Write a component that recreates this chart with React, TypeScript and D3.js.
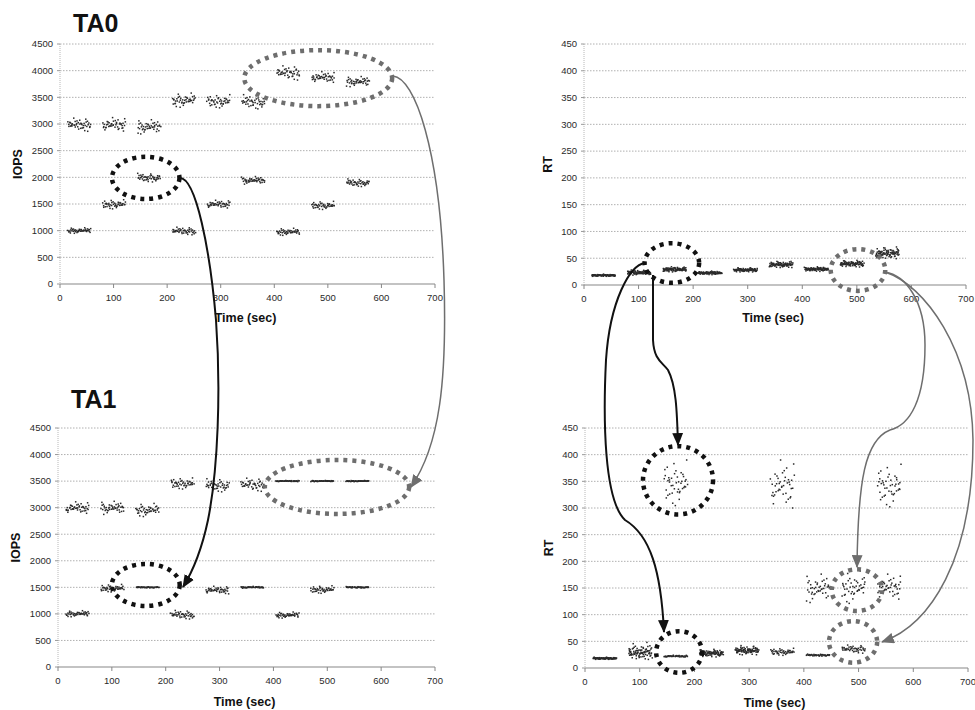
import React, { useEffect, useRef } from 'react';
import * as d3 from 'd3';

// time windows (sec) in which each workload pair runs
const periodStart = [15, 80, 145, 210, 275, 340, 405, 470, 535];
const periodLength = 42;

// axis ticks
const timeTicks = [0, 100, 200, 300, 400, 500, 600, 700];
const iopsTicks = [0, 500, 1000, 1500, 2000, 2500, 3000, 3500, 4000, 4500];
const rtTicks = [0, 50, 100, 150, 200, 250, 300, 350, 400, 450];

// TA0 IOPS, two workloads per window (level and scatter)
const ta0IopsLow = [1000, 1490, 1990, 990, 1490, 1940, 975, 1470, 1895];
const ta0IopsLowSpread = [55, 90, 85, 75, 80, 75, 70, 80, 75];
const ta0IopsHigh = [2980, 2980, 2940, 3440, 3420, 3410, 3950, 3870, 3790];
const ta0IopsHighSpread = [130, 140, 140, 140, 130, 140, 140, 110, 100];

// TA0 response time
const ta0RtA = [18, 22, 28, 22, 28, 38, 30, 40, 60];
const ta0RtASpread = [2, 4, 4, 3, 4, 6, 4, 6, 11];
const ta0RtB = [18, 24, 30, 23, 28, 38, 29, 39, 58];
const ta0RtBSpread = [2, 4, 4, 3, 4, 6, 4, 6, 11];

// TA1 IOPS
const ta1IopsLow = [1000, 1480, 1500, 980, 1445, 1500, 975, 1455, 1500];
const ta1IopsLowSpread = [60, 75, 12, 85, 75, 18, 60, 75, 14];
const ta1IopsHigh = [2990, 2990, 2950, 3450, 3415, 3425, 3500, 3500, 3500];
const ta1IopsHighSpread = [120, 130, 130, 110, 130, 130, 12, 12, 12];

// TA1 response time
const ta1RtA = [18, 26, 22, 28, 32, 30, 24, 35, 150];
const ta1RtASpread = [2, 11, 2, 7, 8, 7, 2, 8, 26];
const ta1RtB = [18, 32, 345, 27, 33, 340, 148, 150, 340];
const ta1RtBSpread = [2, 16, 45, 7, 9, 50, 28, 32, 42];

// scatter shape inside a window, read as a rough noise profile
const jitter = [
  0.08, -0.31, 0.22, 0.55, -0.12, -0.42, 0.03, 0.35, -0.9, 0.18, -0.07, 0.47, -0.25, 0.05,
  1.0, -0.38, 0.11, -0.58, 0.29, -0.02, 0.24, -0.19, 0.7, -0.33, 0.01, -0.8, 0.4, 0.14,
  -0.22, 0.52, -0.06, 0.31, -0.47, 0.09, -0.28, 0.85, -0.15, 0.26, -0.64, 0.04, 0.43,
  -0.1, 0.17, -0.36, 0.6, -0.2, 0.12,
];

function cluster(levels: number[], spreads: number[], shift: number) {
  const pts: [number, number][] = [];
  const n = jitter.length;
  levels.forEach((lv, p) => {
    for (let t = 0; t <= periodLength; t++) {
      const jy = jitter[(t * 5 + p * 7 + shift) % n];
      const jx = jitter[(t * 3 + p * 11 + shift + 17) % n];
      pts.push([periodStart[p] + t + jx * 1.4, lv + spreads[p] * jy]);
    }
  });
  return pts;
}

const panels = [
  {
    key: 'ta0', title: 'TA0', yLabel: 'IOPS', ticks: iopsTicks,
    left: 60, right: 435, top: 44, bottom: 284, titleX: 73, titleY: 32, yLabelX: 18, xLabelY: 322,
    points: [...cluster(ta0IopsLow, ta0IopsLowSpread, 0), ...cluster(ta0IopsHigh, ta0IopsHighSpread, 11)],
    ellipses: [
      { cx: 160, cy: 1990, rx: 63, ry: 395, color: '#111' },
      { cx: 482, cy: 3860, rx: 138, ry: 525, color: '#6e6e6e' },
    ],
  },
  {
    key: 'rt0', title: '', yLabel: 'RT', ticks: rtTicks,
    left: 584, right: 966, top: 44, bottom: 285, titleX: 0, titleY: 0, yLabelX: 548, xLabelY: 322,
    points: [...cluster(ta0RtA, ta0RtASpread, 3), ...cluster(ta0RtB, ta0RtBSpread, 19)],
    ellipses: [
      { cx: 161, cy: 41, rx: 50, ry: 37, color: '#111' },
      { cx: 502, cy: 28, rx: 50, ry: 39, color: '#6e6e6e' },
    ],
  },
  {
    key: 'ta1', title: 'TA1', yLabel: 'IOPS', ticks: iopsTicks,
    left: 58, right: 435, top: 428, bottom: 667, titleX: 71, titleY: 408, yLabelX: 16, xLabelY: 706,
    points: [...cluster(ta1IopsLow, ta1IopsLowSpread, 5), ...cluster(ta1IopsHigh, ta1IopsHighSpread, 23)],
    ellipses: [
      { cx: 163, cy: 1545, rx: 63, ry: 395, color: '#111' },
      { cx: 518, cy: 3390, rx: 134, ry: 508, color: '#6e6e6e' },
    ],
  },
  {
    key: 'rt1', title: '', yLabel: 'RT', ticks: rtTicks,
    left: 585, right: 968, top: 428, bottom: 668, titleX: 0, titleY: 0, yLabelX: 549, xLabelY: 707,
    points: [...cluster(ta1RtA, ta1RtASpread, 9), ...cluster(ta1RtB, ta1RtBSpread, 30)],
    ellipses: [
      { cx: 170, cy: 352, rx: 64, ry: 64, color: '#111' },
      { cx: 172, cy: 30, rx: 42, ry: 39, color: '#111' },
      { cx: 497, cy: 146, rx: 46, ry: 39, color: '#6e6e6e' },
      { cx: 490, cy: 49, rx: 44, ry: 39, color: '#6e6e6e' },
    ],
  },
];

// connector arrows between the panels (page pixels)
const arrows = [
  { d: 'M180,178 C196,178 210,250 216,320 C221,390 218,470 208,520 C201,553 193,571 183,587', color: '#111', w: 2 },
  { d: 'M393,76 C415,78 440,150 444,280 C447,380 440,445 411,487', color: '#6e6e6e', w: 1.5 },
  { d: 'M645,263 C630,265 610,300 606,360 C603,420 604,500 625,520 C650,535 661,570 664,632', color: '#111', w: 2 },
  { d: 'M653,275 L653,340 C654,360 662,362 668,370 C676,385 677,410 678,445', color: '#111', w: 2 },
  { d: 'M885,272 C905,275 925,300 925,345 C925,400 910,425 890,430 C865,440 858,480 857,567', color: '#6e6e6e', w: 1.5 },
  { d: 'M885,272 C925,285 972,350 973,440 C973,560 930,625 882,642', color: '#6e6e6e', w: 1.5 },
];

export default function App() {
  const ref = useRef<SVGSVGElement>(null);

  useEffect(() => {
    const svg = d3.select(ref.current);
    svg.selectAll('*').remove();
    const font = 'Arial, "Liberation Sans", sans-serif';

    const defs = svg.append('defs');
    [['arrow-dark', '#111'], ['arrow-grey', '#6e6e6e']].forEach(([id, c]) => {
      defs.append('marker')
        .attr('id', id)
        .attr('viewBox', '0 0 12 10')
        .attr('refX', 11)
        .attr('refY', 5)
        .attr('markerWidth', 13)
        .attr('markerHeight', 11)
        .attr('markerUnits', 'userSpaceOnUse')
        .attr('orient', 'auto')
        .append('path')
        .attr('d', 'M0,0 L12,5 L0,10 Z')
        .attr('fill', c);
    });

    panels.forEach(p => {
      const yMax = p.ticks[p.ticks.length - 1];
      const x = d3.scaleLinear().domain([0, 700]).range([p.left, p.right]);
      const y = d3.scaleLinear().domain([0, yMax]).range([p.bottom, p.top]);
      const g = svg.append('g');

      // gridlines
      g.selectAll('.grid')
        .data(p.ticks.filter(t => t > 0))
        .join('line')
        .attr('x1', p.left).attr('x2', p.right)
        .attr('y1', d => y(d)).attr('y2', d => y(d))
        .attr('stroke', '#b0b0b0')
        .attr('stroke-width', 1)
        .attr('stroke-dasharray', '1.5,1.5');

      // left axis
      g.append('line')
        .attr('x1', p.left).attr('x2', p.left)
        .attr('y1', p.top).attr('y2', p.bottom)
        .attr('stroke', '#b8b8b8').attr('stroke-dasharray', '1,1');
      g.selectAll('.ytick')
        .data(p.ticks)
        .join('line')
        .attr('x1', p.left - 3).attr('x2', p.left)
        .attr('y1', d => y(d)).attr('y2', d => y(d))
        .attr('stroke', '#999');
      g.selectAll('.ylab')
        .data(p.ticks)
        .join('text')
        .attr('x', p.left - 7)
        .attr('y', d => y(d))
        .attr('dy', '0.35em')
        .attr('text-anchor', 'end')
        .attr('font-family', font)
        .attr('font-size', 9.5)
        .attr('fill', '#2a2a2a')
        .text(d => d);

      // bottom axis
      g.append('line')
        .attr('x1', p.left).attr('x2', p.right)
        .attr('y1', p.bottom).attr('y2', p.bottom)
        .attr('stroke', '#888').attr('stroke-width', 1.2);
      g.selectAll('.xtick')
        .data(timeTicks)
        .join('line')
        .attr('x1', d => x(d)).attr('x2', d => x(d))
        .attr('y1', p.bottom).attr('y2', p.bottom + 4)
        .attr('stroke', '#888');
      g.selectAll('.xlab')
        .data(timeTicks)
        .join('text')
        .attr('x', d => x(d))
        .attr('y', p.bottom + 17)
        .attr('text-anchor', 'middle')
        .attr('font-family', font)
        .attr('font-size', 9.5)
        .attr('fill', '#2a2a2a')
        .text(d => d);

      // axis titles
      g.append('text')
        .attr('x', (p.left + p.right) / 2 - 2)
        .attr('y', p.xLabelY)
        .attr('text-anchor', 'middle')
        .attr('font-family', font)
        .attr('font-weight', 'bold')
        .attr('font-size', 12.5)
        .attr('fill', '#111')
        .text('Time (sec)');
      g.append('text')
        .attr('transform', `translate(${p.yLabelX},${(p.top + p.bottom) / 2}) rotate(-90)`)
        .attr('dy', '0.35em')
        .attr('text-anchor', 'middle')
        .attr('font-family', font)
        .attr('font-weight', 'bold')
        .attr('font-size', 12.5)
        .attr('fill', '#111')
        .text(p.yLabel);

      if (p.title) {
        g.append('text')
          .attr('x', p.titleX)
          .attr('y', p.titleY)
          .attr('font-family', font)
          .attr('font-weight', 'bold')
          .attr('font-size', 25)
          .attr('fill', '#111')
          .text(p.title);
      }

      // scatter points
      g.selectAll('.pt')
        .data(p.points)
        .join('rect')
        .attr('x', d => x(d[0]) - 0.75)
        .attr('y', d => y(d[1]) - 0.75)
        .attr('width', 1.5)
        .attr('height', 1.5)
        .attr('fill', '#2a2a2a');

      // dotted highlight ellipses
      g.selectAll('.ell')
        .data(p.ellipses)
        .join('ellipse')
        .attr('cx', d => x(d.cx))
        .attr('cy', d => y(d.cy))
        .attr('rx', d => x(d.rx) - x(0))
        .attr('ry', d => y(0) - y(d.ry))
        .attr('fill', 'none')
        .attr('stroke', d => d.color)
        .attr('stroke-width', 4.5)
        .attr('stroke-dasharray', '4,5');
    });

    svg.selectAll('.arrow')
      .data(arrows)
      .join('path')
      .attr('d', d => d.d)
      .attr('fill', 'none')
      .attr('stroke', d => d.color)
      .attr('stroke-width', d => d.w)
      .attr('marker-end', d => (d.color === '#111' ? 'url(#arrow-dark)' : 'url(#arrow-grey)'));
  }, []);

  return (
    <svg
      ref={ref}
      width={975}
      height={710}
      style={{ position: 'absolute', left: 0, top: 0, background: '#fff' }}
    />
  );
}
